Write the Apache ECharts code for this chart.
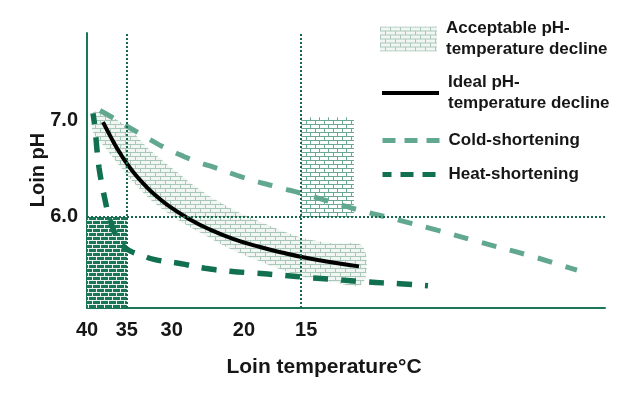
<!DOCTYPE html>
<html>
<head>
<meta charset="utf-8">
<title>Loin pH decline</title>
<script src="https://cdn.jsdelivr.net/npm/echarts@6.0.0/dist/echarts.min.js"></script>
<style>
html, body { margin: 0; padding: 0; background: #fff; }
#panel { width: 628px; height: 398px; }
</style>
</head>
<body>
<div id="panel"></div>
<script>
// x is a position along the cooling curve (not linear in temperature)
var xTickPos = [0, 8, 17, 31.5, 44];
var xTickLabels = ['40', '35', '30', '20', '15'];
var yTickVals = [6, 7];

var bandX = [1.2, 3.6, 7.8, 12.7, 17.7, 22.7, 28.8, 34.8, 42.8, 48.9, 55.3];
var bandUpper = [7.08, 7.06, 6.94, 6.69, 6.48, 6.28, 6.09, 5.95, 5.79, 5.73, 5.70];
var bandLower = [6.88, 6.72, 6.45, 6.18, 5.99, 5.84, 5.67, 5.54, 5.39, 5.33, 5.31];

var idealX = [3.21, 4.22, 5.42, 6.63, 7.83, 9.44, 11.04, 13.05, 16.26, 20.68, 24.69, 29.31, 34.73, 39.35, 43.37, 49.39, 54.61];
var idealPH = [6.98, 6.88, 6.765, 6.66, 6.565, 6.455, 6.36, 6.255, 6.12, 5.975, 5.87, 5.775, 5.69, 5.63, 5.585, 5.53, 5.49];

var coldX = [2.61, 5.02, 7.63, 10.64, 13.65, 16.66, 19.67, 22.69, 25.70, 31.32, 38.15, 43.37, 49.39, 55.42, 60.84, 69.87, 78.90, 88.94, 98.37];
var coldPH = [7.10, 7.03, 6.95, 6.86, 6.77, 6.69, 6.62, 6.56, 6.51, 6.41, 6.31, 6.24, 6.15, 6.06, 5.99, 5.87, 5.74, 5.60, 5.45];

var heatX = [1.20, 1.61, 2.01, 2.41, 3.01, 3.61, 4.22, 5.02, 6.02, 7.23, 8.63, 10.64, 13.65, 18.67, 23.69, 28.71, 33.73, 38.75, 45.38, 50.80, 55.82, 62.84, 68.46];
var heatPH = [7.07, 6.92, 6.69, 6.51, 6.33, 6.18, 6.04, 5.91, 5.79, 5.70, 5.65, 5.61, 5.56, 5.52, 5.47, 5.44, 5.42, 5.40, 5.37, 5.35, 5.33, 5.31, 5.29];

// shaded zones: [x0, x1, pH0, pH1]
var heatZone = [0, 8, 5.06, 6.0];
var coldZone = [43, 53.6, 6.0, 7.03];
var guideX = [8, 43];
var guideY = [6.0];

var names = {
    band: 'Acceptable pH-\ntemperature decline',
    ideal: 'Ideal pH-\ntemperature decline',
    cold: 'Cold-shortening',
    heat: 'Heat-shortening'
};

var colAxis = '#1b7758';
var colCold = '#62a891';
var colHeat = '#10704f';
var font = 'Liberation Sans, Arial, sans-serif';

function brick(bg, line, w, h)
{
    var c = document.createElement('canvas');
    c.width = w;
    c.height = h * 2;
    var ctx = c.getContext('2d');
    if(bg)
    {
        ctx.fillStyle = bg;
        ctx.fillRect(0, 0, w, h * 2);
    }
    ctx.fillStyle = line;
    ctx.fillRect(0, 0, w, 1);
    ctx.fillRect(0, h, w, 1);
    ctx.fillRect(0, 0, 1, h);
    ctx.fillRect(Math.floor(w / 2), h, 1, h);
    return { image: c, repeat: 'repeat' };
}

function pairs(xs, ys)
{
    return xs.map(function(x, i) { return [x, ys[i]]; });
}

var bandPattern = brick('rgba(214,230,222,0.35)', '#aac8ba', 10, 4);
var bandPatternLegend = brick('rgba(214,230,222,0.35)', '#aac8ba', 10, 4);
var darkPattern = brick('#1a7656', 'rgba(255,255,255,0.9)', 8, 4);
var midPattern = brick('#ffffff', '#6aa993', 9, 4);

// band polygon: upper edge left->right, lower edge right->left
function renderBand(params, api)
{
    var pts = [];
    var i;
    for(i = 0; i < bandX.length; i++) pts.push(api.coord([bandX[i], bandUpper[i]]));
    for(i = bandX.length - 1; i >= 0; i--) pts.push(api.coord([bandX[i], bandLower[i]]));
    return {
        type: 'polygon',
        shape: { points: pts, smooth: 0.35 },
        style: { fill: bandPattern, stroke: null }
    };
}

function renderZone(params, api)
{
    var z = api.value(0) === 0 ? heatZone : coldZone;
    var p0 = api.coord([z[0], z[3]]);
    var p1 = api.coord([z[1], z[2]]);
    return {
        type: 'rect',
        shape: { x: p0[0], y: p0[1], width: p1[0] - p0[0], height: p1[1] - p0[1] },
        style: { fill: api.value(0) === 0 ? darkPattern : midPattern, stroke: null }
    };
}

function legendItem(name, top, opts)
{
    var l = {
        left: 380,
        top: top,
        padding: 0,
        orient: 'vertical',
        itemWidth: 57,
        itemHeight: 25,
        selectedMode: false,
        data: [opts.item || name],
        textStyle: {
            fontFamily: font,
            fontSize: 17,
            fontWeight: 'bold',
            color: '#161616',
            lineHeight: 21,
            padding: [0, 0, 0, 4]
        }
    };
    if(opts.lineStyle)
    {
        l.lineStyle = opts.lineStyle;
        l.itemStyle = { opacity: 0 };
    }
    return l;
}

var myChart = echarts.init(document.getElementById('panel'), null, { renderer: 'canvas' });
myChart.setOption({
    animation: false,
    backgroundColor: '#fff',
    grid: { left: 87, right: 23, top: 33, bottom: 90 },
    legend: [
        legendItem(names.band, 18, { item: { name: names.band, icon: 'rect', itemStyle: { color: bandPatternLegend, borderWidth: 0 } } }),
        legendItem(names.ideal, 72, { lineStyle: { width: 4, color: '#000' } }),
        legendItem(names.cold, 130, { lineStyle: { width: 5, color: colCold, type: [13, 9] } }),
        legendItem(names.heat, 164, { lineStyle: { width: 5, color: colHeat, type: [13, 9] } })
    ],
    xAxis: {
        type: 'value',
        min: 0,
        max: 104,
        axisLine: { show: true, lineStyle: { color: colAxis, width: 2 } },
        axisTick: { show: false },
        splitLine: { show: false },
        axisLabel: {
            customValues: xTickPos,
            margin: 12,
            fontFamily: font,
            fontSize: 20,
            fontWeight: 'bold',
            color: '#161616',
            formatter: function(v)
            {
                var i = xTickPos.indexOf(v);
                return i < 0 ? '' : xTickLabels[i];
            }
        }
    },
    yAxis: {
        type: 'value',
        min: 5.06,
        max: 7.9,
        axisLine: { show: true, lineStyle: { color: colAxis, width: 2 } },
        axisTick: { show: false },
        splitLine: { show: false },
        axisLabel: {
            customValues: yTickVals,
            margin: 9,
            fontFamily: font,
            fontSize: 20,
            fontWeight: 'bold',
            color: '#161616',
            formatter: function(v) { return v.toFixed(1); }
        }
    },
    graphic: [
        {
            type: 'text',
            x: 38,
            y: 170,
            rotation: Math.PI / 2,
            style: {
                text: 'Loin pH',
                font: 'bold 20px ' + font,
                fill: '#161616',
                align: 'center',
                verticalAlign: 'middle'
            }
        },
        {
            type: 'text',
            x: 324,
            y: 367,
            style: {
                text: 'Loin temperature°C',
                font: 'bold 21px ' + font,
                fill: '#161616',
                align: 'center',
                verticalAlign: 'middle'
            }
        }
    ],
    series: [
        {
            name: 'zones',
            type: 'custom',
            silent: true,
            z: 1,
            renderItem: renderZone,
            data: [[0], [1]]
        },
        {
            name: names.band,
            type: 'custom',
            silent: true,
            z: 2,
            itemStyle: { color: '#bdd5c9' },
            renderItem: renderBand,
            data: [[0]]
        },
        {
            name: names.ideal,
            type: 'line',
            smooth: 0.5,
            symbol: 'none',
            z: 4,
            lineStyle: { color: '#000', width: 4 },
            itemStyle: { color: '#000' },
            data: pairs(idealX, idealPH)
        },
        {
            name: names.cold,
            type: 'line',
            smooth: 0.5,
            symbol: 'none',
            z: 4,
            lineStyle: { color: colCold, width: 5, type: [15, 14] },
            itemStyle: { color: colCold },
            data: pairs(coldX, coldPH)
        },
        {
            name: names.heat,
            type: 'line',
            smooth: 0.5,
            symbol: 'none',
            z: 4,
            lineStyle: { color: colHeat, width: 5.5, type: [15, 13], dashOffset: 4 },
            itemStyle: { color: colHeat },
            data: pairs(heatX, heatPH),
            markLine: {
                silent: true,
                symbol: 'none',
                label: { show: false },
                lineStyle: { color: '#17684c', width: 2, type: [2, 2] },
                data: guideX.map(function(x) { return { xAxis: x }; })
                    .concat(guideY.map(function(y) { return { yAxis: y }; }))
            }
        }
    ]
});
</script>
</body>
</html>
